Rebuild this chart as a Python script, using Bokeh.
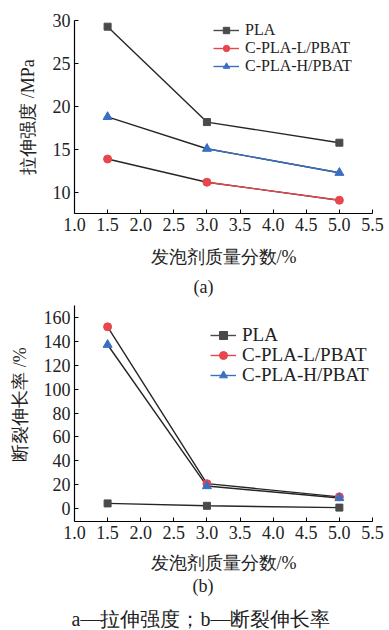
from bokeh.plotting import figure
from bokeh.models import Range1d, FixedTicker, PrintfTickFormatter, Legend, LegendItem, Title
from bokeh.layouts import column
from bokeh.embed import file_html
from bokeh.resources import INLINE

# ---- data ----
foam_pct = [1.5, 3.0, 5.0]
series_names = ["PLA", "C-PLA-L/PBAT", "C-PLA-H/PBAT"]
tensile_pla = [29.3, 18.2, 15.8]
tensile_l = [13.9, 11.2, 9.1]
tensile_h = [18.8, 15.1, 12.3]
elong_pla = [4.5, 2.5, 1.0]
elong_l = [152, 21, 10]
elong_h = [137, 19, 9]
x_ticks = [1.0, 1.5, 2.0, 2.5, 3.0, 3.5, 4.0, 4.5, 5.0, 5.5]
ya_ticks = [10, 15, 20, 25, 30]
yb_ticks = [0, 20, 40, 60, 80, 100, 120, 140, 160]

SERIF = "Liberation Serif"
LINE = "#262626"
GRAY = "#4a4a4a"
RED = "#e8454c"
BLUE = "#3a6fc2"
TXT = "#222222"
NAN = float("nan")
NB = "\u00a0"


def style(p, yticks):
    for ax in (p.xaxis[0], p.yaxis[0]):
        ax.axis_line_color = "black"
        ax.axis_line_width = 1.2
        ax.major_tick_in = 4
        ax.major_tick_out = 0
        ax.major_tick_line_color = "black"
        ax.minor_tick_line_color = None
        ax.major_label_text_font = SERIF
        ax.major_label_text_font_size = "18px"
        ax.major_label_text_color = TXT
        ax.major_label_standoff = 4
        ax.axis_label_text_font = SERIF
        ax.axis_label_text_font_style = "normal"
        ax.axis_label_text_font_size = "18px"
        ax.axis_label_text_color = TXT
    p.xaxis[0].ticker = FixedTicker(ticks=x_ticks)
    p.xaxis[0].formatter = PrintfTickFormatter(format="%.1f")
    p.yaxis[0].ticker = FixedTicker(ticks=yticks)
    p.xgrid.grid_line_color = None
    p.ygrid.grid_line_color = None
    p.outline_line_color = None


def add_series(p, ya, yl, yh, seg_colored, leg_x, leg_ys, fs, row_h):
    p.line(foam_pct, ya, line_color=LINE, line_width=1.4)
    r_pla_m = p.scatter(foam_pct, ya, marker="square", size=7, fill_color=GRAY, line_color=GRAY)
    p.line(foam_pct, yl, line_color=LINE, line_width=1.4)
    p.line(foam_pct, yh, line_color=LINE, line_width=1.4)
    if seg_colored:
        p.line(foam_pct[1:], yl[1:], line_color=RED, line_width=1.4)
        p.line(foam_pct[1:], yh[1:], line_color=BLUE, line_width=1.4)
    r_l_m = p.scatter(foam_pct, yl, marker="circle", size=8, fill_color=RED, line_color=RED)
    r_h_m = p.scatter(foam_pct, yh, marker="triangle", size=9, fill_color=BLUE, line_color=BLUE)
    # legend-only line renderers in series colours (nothing drawn in the plot)
    g1 = p.line([NAN], [NAN], line_color=GRAY, line_width=1.4)
    g2 = p.line([NAN], [NAN], line_color=RED, line_width=1.4)
    g3 = p.line([NAN], [NAN], line_color=BLUE, line_width=1.4)
    entries = [(series_names[0], [g1, r_pla_m]),
               (series_names[1], [g2, r_l_m]),
               (series_names[2], [g3, r_h_m])]
    for (name, rends), ly in zip(entries, leg_ys):
        leg = Legend(items=[LegendItem(label=name, renderers=rends)], location=(leg_x, ly),
                     padding=0, margin=0, spacing=0,
                     glyph_width=26, glyph_height=row_h, label_height=row_h, label_standoff=6,
                     label_text_font=SERIF, label_text_font_size=fs, label_text_color=TXT,
                     border_line_color=None, background_fill_alpha=0)
        p.add_layout(leg)


def below_title(p, text, offset, standoff, fs):
    p.add_layout(Title(text=text, align="left", offset=offset, standoff=standoff,
                       text_font=SERIF, text_font_size=fs, text_font_style="normal",
                       text_color=TXT), "below")


# ---- figure (a) ----
pa = figure(width=389, height=304, output_backend="svg", toolbar_location=None,
            x_range=Range1d(1.0, 5.5005), y_range=Range1d(7.56, 30.02),
            min_border_left=71, min_border_right=17, min_border_top=20, min_border_bottom=91,
            x_axis_label="发泡剂质量分数/%", y_axis_label="拉伸强度 /MPa")
style(pa, ya_ticks)
pa.xaxis[0].axis_label_standoff = 13
pa.yaxis[0].axis_label_standoff = 12
add_series(pa, tensile_pla, tensile_l, tensile_h, True, 139, [174, 156, 138], "16px", 16)
below_title(pa, "(a)", 119, 10, "18px")

# ---- figure (b) ----
pb = figure(width=389, height=296, output_backend="svg", toolbar_location=None,
            x_range=Range1d(1.0, 5.5005), y_range=Range1d(-10.6, 169.8),
            min_border_left=74, min_border_right=9, min_border_top=1, min_border_bottom=79,
            x_axis_label="发泡剂质量分数/%", y_axis_label=NB * 4 + "断裂伸长率 /%")
style(pb, yb_ticks)
pb.xaxis[0].axis_label_standoff = 11
pb.yaxis[0].axis_label_standoff = 11
add_series(pb, elong_pla, elong_l, elong_h, False, 136, [175, 155, 135], "19px", 20)
below_title(pb, "(b)", 118, -4, "18px")

# ---- caption strip ----
pc = figure(width=389, height=30, output_backend="svg", toolbar_location=None,
            x_range=Range1d(0, 1), y_range=Range1d(0, 1),
            x_axis_location=None, y_axis_location=None,
            min_border_left=0, min_border_right=0, min_border_top=29, min_border_bottom=0)
pc.xgrid.grid_line_color = None
pc.ygrid.grid_line_color = None
pc.outline_line_color = None
pc.add_layout(Title(text="a—拉伸强度；b—断裂伸长率", align="left", offset=-3, standoff=0,
                    vertical_align="bottom", text_font=SERIF, text_font_size="20px",
                    text_font_style="normal", text_color=TXT), "above")

layout = column(pa, pb, pc, spacing=0)
open("out.html", "w").write(file_html(layout, INLINE))
